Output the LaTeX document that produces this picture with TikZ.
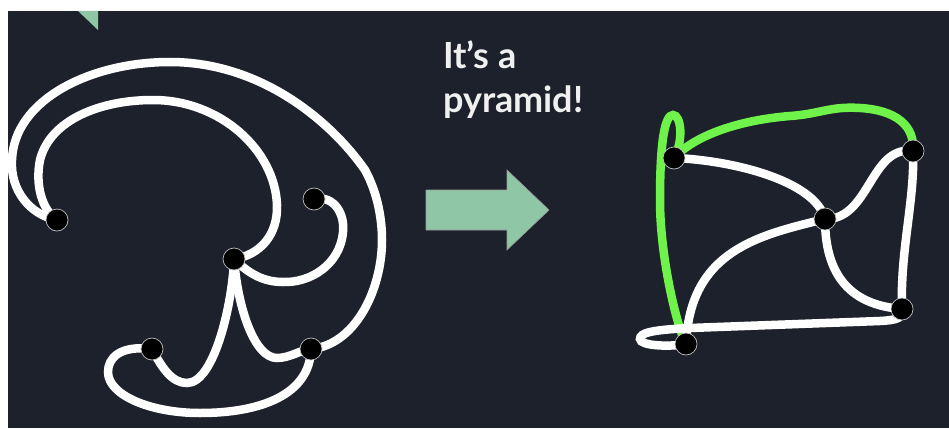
\documentclass[tikz,border=0pt]{standalone}
\usepackage{fontspec}
\setmainfont{Lato}
\pgfdeclarelayer{back}
\pgfdeclarelayer{edges}
\pgfsetlayers{back,edges,main}
\definecolor{bgdark}{HTML}{1D212B}
\definecolor{mint}{HTML}{8FC6A5}
\definecolor{lime}{HTML}{6FF24A}
\tikzset{
  vtx/.style={circle, fill=black, draw=white!75!black, line width=0.7pt, minimum size=22pt, inner sep=0pt},
  wedge/.style={draw=white, line width=8.5pt, line cap=round},
  gedge/.style={draw=lime, line width=8.5pt, line cap=round},
  title/.style={text=white!94!black, font=\fontsize{36}{44}\selectfont\bfseries, inner sep=0pt, anchor=base west}
}
\begin{document}
\begin{tikzpicture}[x=1pt,y=-1pt]
\useasboundingbox (0,0) rectangle (949,428);
\begin{pgfonlayer}{back}
\fill[white] (0,0) rectangle (949,428);
\fill[bgdark] (8,11) rectangle (949,428);
\end{pgfonlayer}
% decoration
\fill[mint] (78,11) -- (98,11) -- (98,30) -- cycle;
% left graph nodes
\node[vtx] (A) at (57,220) {};
\node[vtx] (B) at (314,199) {};
\node[vtx] (C) at (234,259) {};
\node[vtx] (D) at (152,349) {};
\node[vtx] (E) at (311,349) {};
% right graph nodes
\node[vtx] (P) at (674,158) {};
\node[vtx] (Q) at (913,151) {};
\node[vtx] (R) at (825,219) {};
\node[vtx] (S) at (902,309) {};
\node[vtx] (T) at (686,344) {};
% text
\node[title] (t1) at (443,68) {It’s a};
\node[title] (t2) at (443,112) {pyramid!};
% arrow
\draw[fill=mint, draw=white!60!black, line width=0.6pt] (426,190) -- (507,190) -- (507,170) -- (549,210) -- (507,250) -- (507,230) -- (426,230) -- cycle;
\begin{pgfonlayer}{edges}
\begin{scope}
\clip (8,11) rectangle (949,428);
% left graph edges
\draw[wedge] (A.center) .. controls (30,215) and (10,190) .. (12,160)
   .. controls (14,100) and (90,62) .. (170,62)
   .. controls (260,62) and (330,120) .. (365,170)
   .. controls (376,190) and (382,215) .. (382,240)
   .. controls (382,290) and (355,345) .. (E.center);
\draw[wedge] (A.center) .. controls (42,210) and (35,185) .. (40,160)
   .. controls (50,120) and (100,100) .. (153,100)
   .. controls (220,100) and (275,150) .. (277,205)
   .. controls (278,235) and (260,255) .. (C.center);
\draw[wedge] (B.center) .. controls (335,195) and (345,215) .. (343,232)
   .. controls (340,265) and (310,283) .. (283,282)
   .. controls (265,282) and (250,275) .. (C.center);
\draw[wedge] (C.center) .. controls (233,300) and (215,383) .. (187,383)
   .. controls (172,383) and (162,368) .. (D.center);
\draw[wedge] (C.center) .. controls (238,310) and (255,358) .. (277,358)
   .. controls (290,358) and (300,350) .. (E.center);
\draw[wedge] (D.center) .. controls (120,345) and (108,358) .. (108,372)
   .. controls (108,395) and (150,413) .. (200,413)
   .. controls (260,413) and (310,395) .. (E.center);
% right graph edges
\draw[gedge] (T.center) .. controls (678,330) and (660,260) .. (660,200)
   .. controls (660,140) and (665,115) .. (673,115)
   .. controls (681,115) and (684,140) .. (P.center);
\draw[gedge] (P.center) .. controls (695,135) and (740,120) .. (790,116)
   .. controls (820,114) and (830,106) .. (860,108)
   .. controls (895,110) and (915,125) .. (Q.center);
\draw[wedge] (P.center) .. controls (730,160) and (815,180) .. (R.center);
\draw[wedge] (Q.center) .. controls (870,145) and (870,220) .. (R.center);
\draw[wedge] (Q.center) .. controls (915,200) and (900,250) .. (S.center);
\draw[wedge] (R.center) .. controls (825,275) and (850,305) .. (S.center);
\draw[wedge] (R.center) .. controls (760,235) and (690,250) .. (T.center);
\draw[wedge] (S.center) .. controls (903,318) and (898,320) .. (880,321) -- (690,328)
   .. controls (650,330) and (640,333) .. (640,339)
   .. controls (640,346) and (670,347) .. (T.center);
\end{scope}
\end{pgfonlayer}
\end{tikzpicture}
\end{document}
